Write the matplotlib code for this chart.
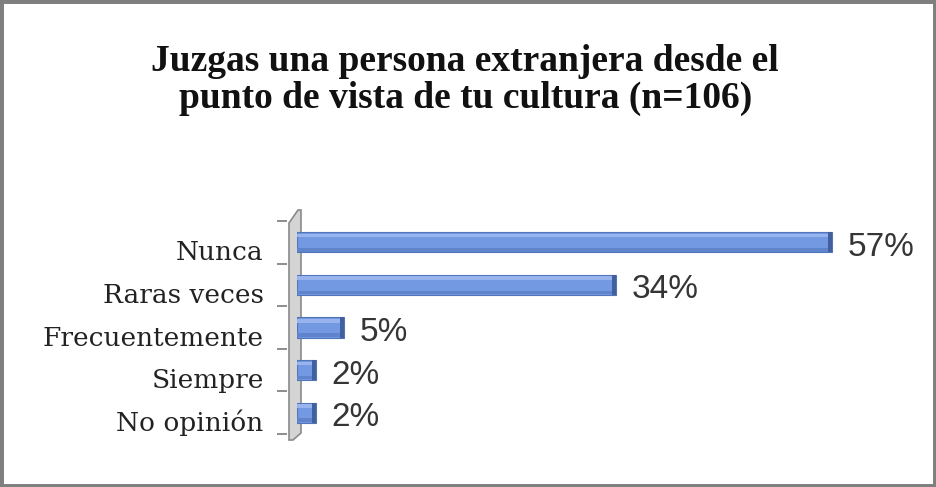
import numpy as np
import matplotlib
matplotlib.use("Agg")
import matplotlib.pyplot as plt
import matplotlib.transforms as mtransforms
from matplotlib.patches import Rectangle, Polygon

# datos del gráfico
categories = ["Nunca", "Raras veces", "Frecuentemente", "Siempre", "No opinión"]
values = [57, 34, 5, 2, 2]
value_labels = ["57%", "34%", "5%", "2%", "2%"]
title = "Juzgas una persona extranjera desde el\npunto de vista de tu cultura (n=106)"

W, H = 936, 487
fig = plt.figure(figsize=(W / 100, H / 100), dpi=100)
fig.patch.set_facecolor("white")

# ejes: 0% en x=297 px, 60% en x=860 px
ax = fig.add_axes([297 / W, 1 - 434 / H, (860 - 297) / W, (434 - 221) / H])
ax.set_xlim(0, 60)
ax.set_ylim(len(categories) - 0.5, -0.5)

y = np.arange(len(categories))
bar_h = 0.47

# barras con algo de efecto 3D
ax.barh(y, values, height=bar_h, color="#7399e2", edgecolor="#5274b8", linewidth=0.8, zorder=3)
ax.barh(y - bar_h * 0.33, values, height=bar_h * 0.18, color="#98b4ee", linewidth=0, zorder=4)
ax.barh(y + bar_h * 0.37, values, height=bar_h * 0.18, color="#6084cc", linewidth=0, zorder=4)
cap = 0.45
ax.barh(y, [cap] * len(values), left=np.array(values) - cap, height=bar_h,
        color="#42609e", linewidth=0, zorder=5)

# etiquetas de valores
lab_off = mtransforms.ScaledTranslation(0, -5 / 100, fig.dpi_scale_trans)
for yi, v, t in zip(y, values, value_labels):
    ax.text(v + 1.7, yi, t, ha="left", va="center", fontsize=24,
            family="Liberation Sans", color="#353535",
            transform=ax.transData + lab_off)

# pared izquierda (3D)
px = lambda dx: dx / (860 - 297)
py = lambda dy: dy / (434 - 221)
wall = Polygon([(px(-8), 1 + py(-2)), (px(1), 1 + py(11)), (px(4), 1 + py(11)),
                (px(4), py(1)), (px(-4), py(-6)), (px(-8), py(-6))],
               closed=True, transform=ax.transAxes, facecolor="#d4d4d4",
               edgecolor="#8a8a8a", linewidth=1.2, clip_on=False, zorder=2)
ax.add_patch(wall)

# ejes y ticks
for s in ax.spines.values():
    s.set_visible(False)
ax.spines["left"].set_position(("outward", 7))
ax.set_xticks([])
ax.set_yticks(y)
ax.set_yticklabels(categories, fontsize=19, family="DejaVu Serif", color="#222222")
ax.set_yticks(np.arange(len(categories) + 1) - 0.5, minor=True)
ax.tick_params(axis="y", which="major", length=0, pad=17)
ax.tick_params(axis="y", which="minor", length=7, width=1.2, color="#7a7a7a")
tick_off = mtransforms.ScaledTranslation(0, -8 / 100, fig.dpi_scale_trans)
for lbl in ax.get_yticklabels():
    lbl.set_transform(lbl.get_transform() + tick_off)

# título
fig.text(0.497, 1 - 80 / H, title, ha="center", va="center", fontsize=27,
         fontweight="bold", family="Liberation Serif", color="#111111", linespacing=1.05)

# borde
fig.patches.append(Rectangle((0, 0), 1, 1, transform=fig.transFigure, fill=False,
                             edgecolor="#7f7f7f", linewidth=5))

fig.savefig("out.png", dpi=100)
